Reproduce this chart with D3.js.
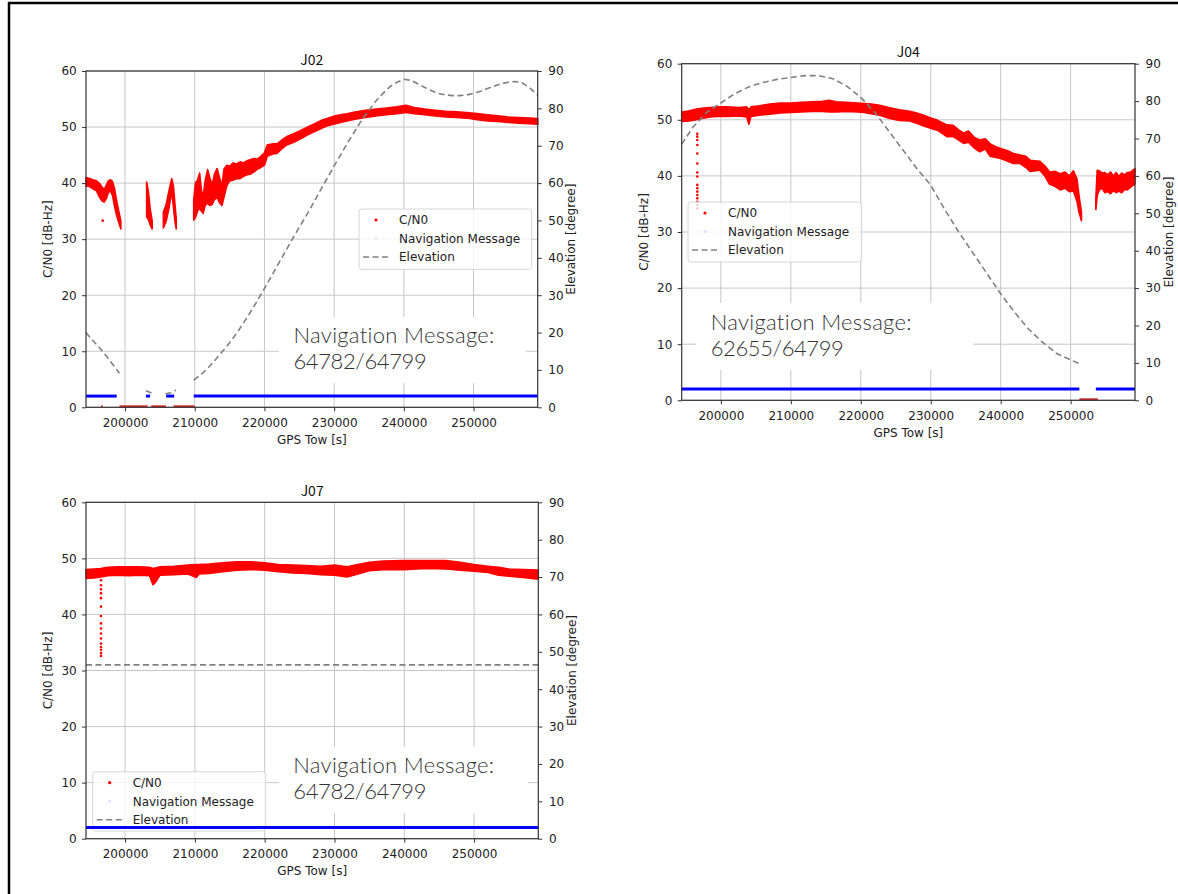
<!DOCTYPE html>
<html>
<head>
<meta charset="utf-8">
<title>QZSS C/N0 and navigation message</title>
<style>
body { margin: 0; background: #fff; }
svg { display: block; font-family: "DejaVu Sans", sans-serif; }
</style>
</head>
<body>
<svg id="chart" width="1178" height="894"></svg>
<script src="https://cdn.jsdelivr.net/npm/d3@7"></script>
<script>
// ---- values ----
const towRange = [194400, 259200];
const towTicks = [200000, 210000, 220000, 230000, 240000, 250000];
const cn0Ticks = [0, 10, 20, 30, 40, 50, 60];
const elevTicks = [0, 10, 20, 30, 40, 50, 60, 70, 80, 90];
const legendLabels = ['C/N0', 'Navigation Message', 'Elevation'];

// C/N0 band per tracked stretch: [tow, low, high]
const j02Cn0 = [
  [[194400,39.5,41],[194900,39.4,40.8],[195400,39,40.6],[195900,38.6,40.4],[196300,37.6,40],[196700,36.8,39.3],
   [197000,36.6,38.8],[197300,37.2,39.6],[197600,38.3,40.4],[197900,38.6,40.6],[198200,37.8,40.3],[198500,35.8,39],
   [198800,34.2,36.8],[199100,33,35],[199400,31.8,33.2]],
  [[203100,34,40.2],[203350,33.5,38.5],[203600,32.6,35.5],[203900,31.8,33.2]],
  [[205500,32,34.8],[205900,33.2,36.2],[206300,35.5,38.6],[206700,38.6,40.8],[206950,35.6,39.4],[207150,33.2,36.4],[207350,31.8,33.6]],
  [[209850,33.4,37],[210100,33.8,40],[210400,35,40.5],[210700,35.5,41.8],[210950,35,38.8],[211200,34.6,37.5],
   [211500,36,40.5],[211850,36.4,42.4],[212150,36,41],[212500,36.2,39.6],[212800,37,41.5],[213200,37.5,42.6],
   [213550,36.5,41],[213900,36,39.5],[214200,37.5,42.5],[214600,39.5,43.2],[215000,40.4,43],[215500,40.5,43.6],
   [216000,40.8,43.4],[216500,40.8,43.8],[217000,41.2,43.6],[217500,41.5,44],[218000,41.6,44.2],[218500,42,44.4],
   [219000,42.5,44.3],[219500,42.8,44.8],[220000,43.2,45.4],[220400,44.8,46.8],[221200,45.2,47],[221800,45.3,47],
   [222400,46,47.6],[223200,46.8,48.3],[224200,47.3,48.8],[225200,47.9,49.4],[226200,48.6,50],[227200,49.2,50.6],
   [228200,49.8,51.2],[229200,50.3,51.6],[230200,50.6,52],[231500,51,52.3],[233000,51.4,52.7],[234500,51.7,53],
   [236000,52,53.2],[237500,52.2,53.4],[239000,52.4,53.6],[240300,52.6,53.9],[241500,52.4,53.5],[243000,52.2,53.2],
   [244500,52,53],[246000,51.8,52.8],[247500,51.7,52.7],[249000,51.6,52.6],[250500,51.3,52.4],[252000,51.1,52.2],
   [253500,51,52],[255000,50.8,51.8],[256500,50.7,51.7],[258000,50.6,51.6],[259200,50.5,51.5]]
];
const j04Cn0 = [
  [[194400,49.7,51.4],[195500,49.8,51.6],[196500,50,51.9],[197500,50.3,52.1],[198500,50.5,52.2],[199500,50.6,52.3],
   [201000,50.6,52.3],[202500,50.7,52.2],[203700,50.5,52.3],[204000,49.2,51.8],[204300,50.6,52.3],[205500,50.8,52.5],
   [207000,51,52.8],[208500,51.2,53],[210000,51.3,53],[211500,51.4,53.1],[213000,51.5,53.2],[214500,51.5,53.3],
   [215500,51.4,53.5],[216500,51.4,53.2],[218000,51.5,53.1],[219500,51.4,53],[220500,51.3,52.9],[221500,51.1,52.8],
   [222700,50.8,52.6],[224000,50.3,52.2],[225500,49.9,51.8],[227000,49.8,51.5],[228000,49.4,51.2],[229000,48.9,50.8],
   [230000,48.5,50.3],[231000,48.1,49.9],[232300,47,49.1],[233200,47,49],[234000,46.4,48.2],[234700,45.8,47.6],
   [235400,46,48],[236200,45,46.9],[237000,44.3,46.4],[237800,44.8,46.6],[238500,43.5,45.7],[239300,43.3,45.2],
   [240000,43.1,44.9],[241000,42.6,44.5],[241800,42.2,44],[242800,42.2,43.7],[243600,41.5,43.5],[244200,40.8,42.8],
   [245600,41,42.6],[246300,40,41.8],[247000,38.5,40.7],[247800,38.1,40.8],[248500,37.5,40.4],[249200,37.8,40.7],
   [249800,37.2,40],[250400,37.3,40.9],[250900,35.5,39.5],[251200,33.5,36.5],[251550,32,33.5]],
  [[253600,34,36],[253800,36.5,41],[254100,37.5,40.9],[254500,37.8,40.5],[254900,37,40.6],[255300,37.2,40.2],
   [255700,36.8,40.7],[256100,37.4,40],[256500,37,40.6],[256900,37.3,39.9],[257300,37,40.5],[257700,37.6,40.2],
   [258100,37.5,40.6],[258600,38,40.7],[259200,38.6,41.3]]
];
const j07Cn0 = [
  [[194400,46.4,48],[195500,46.5,48.1],[196500,46.7,48.2],[197500,46.9,48.4],[199000,47,48.5],[200500,46.9,48.5],
   [202000,47,48.5],[203500,46.9,48.4],[204000,45.3,48.2],[204400,45.8,48.3],[205000,47,48.5],[207000,47.1,48.6],
   [209000,47.2,48.8],[210200,46.6,48.9],[210600,47.2,48.9],[212000,47.3,49],[214000,47.6,49.2],[216000,47.9,49.4],
   [218000,48,49.4],[220000,47.9,49.2],[222000,47.6,48.9],[224000,47.4,48.8],[226000,47.3,48.7],[228000,47.1,48.6],
   [230000,47,48.8],[231800,46.7,48.5],[233000,47.1,48.8],[235000,47.8,49.3],[237000,48,49.5],[240000,48,49.6],
   [243000,48.2,49.6],[246000,48.1,49.6],[248000,47.9,49.3],[250000,47.7,48.9],[252000,47.5,48.6],[253500,47,48.4],
   [255000,46.8,48.1],[257000,46.6,48],[259200,46.3,47.9]]
];

// isolated C/N0 samples [tow, dB-Hz]
const j02Dots = [[196800,33.3]];
const j04Dots = [47.5,47,46.4,45.5,44,42.2,40.6,39.9,38.4,37.8,37.2,36.6,36,35.4,34.8,34.2].map(v => [196630, v]);
const j07Dots = [46.1,45.2,44.5,43.8,42.9,41.4,39.7,38.4,37.5,36.6,35.7,34.8,34.2,33.7,33.1,32.6].map(v => [196550, v]);

// stretches where C/N0 sits at 0 (not tracked): [from, to]
const j02Zero = [[196550,196800],[199200,203250],[203750,205880],[206950,210000]];
const j04Zero = [[251250,253900]];
const j07Zero = [];

// stretches with navigation message decoded: [from, to]
const j02Nav = [[194400,198800],[203000,203600],[205900,207050],[209850,259200]];
const j04Nav = [[194400,251250],[253600,259200]];
const j07Nav = [[194400,259200]];

// elevation in degrees: [tow, deg]
const j02Elev = [
  [[194400,20],[195400,17.8],[196400,15.8],[197400,13.5],[198300,11.3],[199200,9.1]],
  [[203000,4.4],[203800,3.8]],
  [[205800,3.6],[206600,3.9],[207300,4.6]],
  [[209850,7.3],[211000,8.9],[212000,10.7],[213000,12.8],[214000,15],[215000,17.3],[216000,19.8],[217000,22.6],
   [218000,25.5],[219000,28.6],[220000,31.8],[221000,35.1],[222000,38.4],[223000,41.7],[224000,45],[225000,48.2],
   [226000,51.3],[227000,54.6],[228000,58],[229000,61.3],[230000,64.6],[231000,67.8],[232000,71],[233000,74],
   [234000,77],[235000,79.5],[236000,82],[237000,84],[238000,85.8],[239000,87],[240000,87.8],[241000,87.5],
   [242000,86.6],[243000,85.6],[244000,84.7],[245000,84],[246000,83.6],[247000,83.4],[248000,83.4],[249000,83.6],
   [250000,84],[251000,84.6],[252000,85.3],[253000,86],[254000,86.6],[255000,87],[256000,87.2],[257000,86.8],
   [258000,85.6],[259200,83.5]]
];
const j04Elev = [
  [[194400,68.5],[196000,73],[198000,77],[200000,79.5],[202000,82],[204000,83.8],[206000,85],[208000,85.8],
   [210000,86.3],[212000,86.8],[214000,86.8],[216000,86],[218000,84],[220000,81],[222000,77],[224000,72],
   [226000,67],[228000,62],[230000,57.5],[232000,51],[234000,45],[236000,39.5],[238000,34],[240000,28.5],
   [242000,23.5],[244000,19],[246000,15.5],[248000,12.5],[250000,10.8],[251300,9.8]]
];
const j07Elev = [[[194400,46.5],[259200,46.5]]];

const j02Count = '64782/64799';
const j04Count = '62655/64799';
const j07Count = '64782/64799';

// ---- layout ----
const panels = [
  { title: 'J02', left: 86, right: 537.7, top: 71, bottom: 407.3,
    cn0: j02Cn0, dots: j02Dots, zero: j02Zero, nav: j02Nav, elev: j02Elev, count: j02Count,
    legend: [359, 209, 172.7, 60.3], noteBox: [279, 317, 247, 66], note: [293.5, 343.3] },
  { title: 'J04', left: 681.7, right: 1135, top: 63.7, bottom: 400.3,
    cn0: j04Cn0, dots: j04Dots, zero: j04Zero, nav: j04Nav, elev: j04Elev, count: j04Count,
    legend: [688, 202, 173.7, 60], noteBox: [696, 303, 277, 67], note: [710.7, 330] },
  { title: 'J07', left: 86, right: 538.3, top: 502.3, bottom: 838.7,
    cn0: j07Cn0, dots: j07Dots, zero: j07Zero, nav: j07Nav, elev: j07Elev, count: j07Count,
    legend: [92.7, 771.7, 173, 59.3], noteBox: [279, 747, 249, 66], note: [293.3, 773.3] }
];

const svg = d3.select('#chart');
svg.append('rect').attr('width', 1178).attr('height', 894).attr('fill', '#fff');
svg.append('path').attr('d', 'M9,894V3H1178').attr('fill', 'none')
  .attr('stroke', '#000').attr('stroke-width', 2.5);

panels.forEach(drawPanel);

function drawPanel(p) {
  const g = svg.append('g');
  const x = d3.scaleLinear().domain(towRange).range([p.left, p.right]);
  const y = d3.scaleLinear().domain([0, 60]).range([p.bottom, p.top]);
  const y2 = d3.scaleLinear().domain([0, 90]).range([p.bottom, p.top]);

  // grid
  g.append('g').selectAll('line').data(towTicks).join('line')
    .attr('x1', d => x(d)).attr('x2', d => x(d)).attr('y1', p.top).attr('y2', p.bottom)
    .attr('stroke', '#c6c6c6').attr('stroke-width', 1);
  g.append('g').selectAll('line').data(cn0Ticks).join('line')
    .attr('x1', p.left).attr('x2', p.right).attr('y1', d => y(d)).attr('y2', d => y(d))
    .attr('stroke', '#c6c6c6').attr('stroke-width', 1);

  // C/N0
  const band = d3.area().x(d => x(d[0])).y0(d => y(d[1])).y1(d => y(d[2]));
  g.append('g').selectAll('path').data(p.cn0).join('path')
    .attr('d', band).attr('fill', 'red').attr('stroke', 'red')
    .attr('stroke-width', 1.6).attr('stroke-linejoin', 'round');
  g.append('g').selectAll('line').data(p.zero).join('line')
    .attr('x1', d => x(d[0])).attr('x2', d => x(d[1]))
    .attr('y1', y(0) - 1).attr('y2', y(0) - 1)
    .attr('stroke', '#d42a2a').attr('stroke-width', 2);
  g.append('g').selectAll('circle').data(p.dots).join('circle')
    .attr('cx', d => x(d[0])).attr('cy', d => y(d[1])).attr('r', 1.3).attr('fill', 'red');

  // legend
  const [lx, ly, lw, lh] = p.legend;
  const lg = g.append('g');
  lg.append('rect').attr('x', lx).attr('y', ly).attr('width', lw).attr('height', lh).attr('rx', 3)
    .attr('fill', '#fff').attr('fill-opacity', 0.8).attr('stroke', '#d6d6d6').attr('stroke-width', 1);
  const rows = [11, 29.5, 48];
  lg.append('circle').attr('cx', lx + 17).attr('cy', ly + rows[0]).attr('r', 1.6).attr('fill', 'red');
  lg.append('circle').attr('cx', lx + 17).attr('cy', ly + rows[1]).attr('r', 1.6).attr('fill', '#dfe3ff');
  lg.append('line').attr('x1', lx + 4).attr('x2', lx + 30).attr('y1', ly + rows[2]).attr('y2', ly + rows[2])
    .attr('stroke', '#808080').attr('stroke-width', 1.6).attr('stroke-dasharray', '6,3.5');
  lg.selectAll('text').data(legendLabels).join('text')
    .attr('x', lx + 40).attr('y', (d, i) => ly + rows[i] + 4.3)
    .attr('font-size', 12).attr('fill', '#222').text(d => d);

  // elevation axis series
  const line = d3.line().x(d => x(d[0])).y(d => y2(d[1]));
  g.append('g').selectAll('path').data(p.elev).join('path')
    .attr('d', line).attr('fill', 'none').attr('stroke', '#808080')
    .attr('stroke-width', 1.6).attr('stroke-dasharray', '6,3.5');
  g.append('g').selectAll('line').data(p.nav).join('line')
    .attr('x1', d => x(d[0])).attr('x2', d => x(d[1]))
    .attr('y1', y2(3)).attr('y2', y2(3))
    .attr('stroke', '#0000ff').attr('stroke-width', 3);

  // axes
  const styleAxis = a => {
    a.attr('font-size', 12).attr('font-family', 'DejaVu Sans');
    a.select('.domain').remove();
    a.selectAll('.tick line').attr('stroke', '#333');
    a.selectAll('.tick text').attr('fill', '#222');
  };
  g.append('g').attr('transform', `translate(0,${p.bottom})`)
    .call(d3.axisBottom(x).tickValues(towTicks).tickFormat(d3.format('d')).tickSize(4).tickPadding(7))
    .call(styleAxis);
  g.append('g').attr('transform', `translate(${p.left},0)`)
    .call(d3.axisLeft(y).tickValues(cn0Ticks).tickSize(4).tickPadding(5.3))
    .call(styleAxis);
  g.append('g').attr('transform', `translate(${p.right},0)`)
    .call(d3.axisRight(y2).tickValues(elevTicks).tickSize(4).tickPadding(6.6))
    .call(styleAxis);
  g.append('rect').attr('x', p.left).attr('y', p.top)
    .attr('width', p.right - p.left).attr('height', p.bottom - p.top)
    .attr('fill', 'none').attr('stroke', '#333').attr('stroke-width', 1.2);

  // titles
  g.append('text').attr('x', (p.left + p.right) / 2).attr('y', p.top - 6.3)
    .attr('text-anchor', 'middle').attr('font-family', '"Noto Sans CJK JP", sans-serif')
    .attr('font-size', 14).attr('fill', '#111').text(p.title);
  g.append('text').attr('x', (p.left + p.right) / 2).attr('y', p.bottom + 36.7)
    .attr('text-anchor', 'middle').attr('font-size', 12).attr('fill', '#222').text('GPS Tow [s]');
  g.append('text').attr('transform', `translate(${p.left - 34},${(p.top + p.bottom) / 2}) rotate(-90)`)
    .attr('text-anchor', 'middle').attr('font-size', 12).attr('fill', '#222').text('C/N0 [dB-Hz]');
  g.append('text').attr('transform', `translate(${p.right + 37.5},${(p.top + p.bottom) / 2}) rotate(-90)`)
    .attr('text-anchor', 'middle').attr('font-size', 12).attr('fill', '#222').text('Elevation [degree]');

  // pasted note box, two separate lines
  const [bx, by, bw, bh] = p.noteBox;
  g.append('rect').attr('x', bx).attr('y', by).attr('width', bw).attr('height', bh).attr('fill', '#fff');
  const noteLines = ['Navigation Message:', p.count];
  const notes = g.selectAll('text.note').data(noteLines).join('text').attr('class', 'note')
    .attr('x', p.note[0]).attr('y', (d, i) => p.note[1] + i * 26)
    .attr('font-family', 'Lato, "Noto Sans", sans-serif').attr('font-weight', 300)
    .attr('font-size', 21).attr('fill', '#333')
    .attr('letter-spacing', (d, i) => i === 0 ? 0.3 : -0.4).text(d => d);
  const w = notes.node().getComputedTextLength();
  if (w > 0) notes.attr('font-size', Math.min(22, 21 * 203 / w));
}
</script>
</body>
</html>
